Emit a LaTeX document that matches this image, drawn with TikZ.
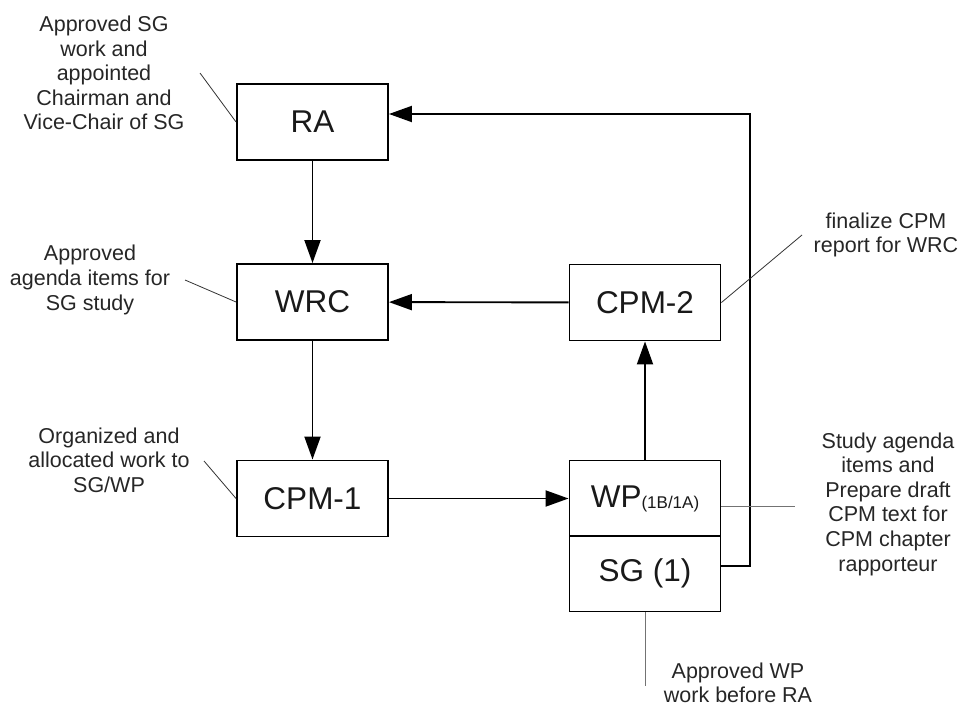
\documentclass[tikz,border=0pt]{standalone}
\usepackage{fontspec}
\setmainfont{Liberation Sans}
\usetikzlibrary{arrows.meta}
\tikzset{
  box/.style={draw, line width=1.9pt, rectangle, minimum width=151pt, minimum height=76pt, inner sep=0pt, font=\fontsize{31.5}{34}\selectfont, text=black!90},
  lbl/.style={align=center, inner sep=0pt, font=\fontsize{21.5}{24.6}\selectfont, text=black!85},
  flow/.style={line width=1.9pt, -{Triangle[length=23pt,width=16pt]}},
  leader/.style={line width=0.8pt, black!80},
  leadergray/.style={line width=1pt, black!55}
}
\begin{document}
\begin{tikzpicture}[x=1pt,y=-1pt]
\useasboundingbox (0,0) rectangle (959,706);
% boxes
\node[box] (RA) at (312.5,122) {RA};
\node[box] (WRC) at (312.5,302) {WRC};
\node[box] (CPM1) at (312.5,498.5) {CPM-1};
\node[box] (CPM2) at (645,302.5) {CPM-2};
\node[box] (WP) at (645,498.5) {WP\raisebox{-1pt}{\fontsize{17}{18}\selectfont(1B/1A)}};
\node[box] (SG) at (645,573.5) {SG (1)};
% labels
\node[lbl] (tRA) at (104,73) {Approved SG\\work and\\appointed\\Chairman and\\Vice-Chair of SG};
\node[lbl] (tWRC) at (90,280) {Approved\\agenda items for\\SG study};
\node[lbl] (tCPM1) at (109,460) {Organized and\\allocated work to\\SG/WP};
\node[lbl] (tCPM2) at (886,235) {finalize CPM\\report for WRC};
\node[lbl] (tWP) at (888,504) {Study agenda\\items and\\Prepare draft\\CPM text for\\CPM chapter\\rapporteur};
\node[lbl] (tSG) at (738,683) {Approved WP\\work before RA};
% leader end coordinates
\coordinate (l1) at (200,73);
\coordinate (l2) at (185,280);
\coordinate (l3) at (204,461);
\coordinate (l4) at (802,235);
\coordinate (l5) at (795,506);
\coordinate (l6) at (645,686);
\coordinate (fb) at (750,566);
\coordinate (top) at (750,114);
% flows
\draw[flow] (RA) -- (WRC);
\draw[flow] (WRC) -- (CPM1);
\draw[flow] (CPM1) -- (WP);
\draw[flow] (WP) -- (CPM2);
\draw[flow] (CPM2) -- (WRC);
\draw[flow] (fb -| SG.east) -- (fb) -- (top) -- (top -| RA.east);
% leaders
\draw[leader] (l1) -- (RA.west);
\draw[leader] (l2) -- (WRC.west);
\draw[leader] (l3) -- (CPM1.west);
\draw[leader] (CPM2.east) -- (l4);
\draw[leadergray] (l5 -| WP.east) -- (l5);
\draw[leadergray] (SG.south) -- (l6);
\end{tikzpicture}
\end{document}
